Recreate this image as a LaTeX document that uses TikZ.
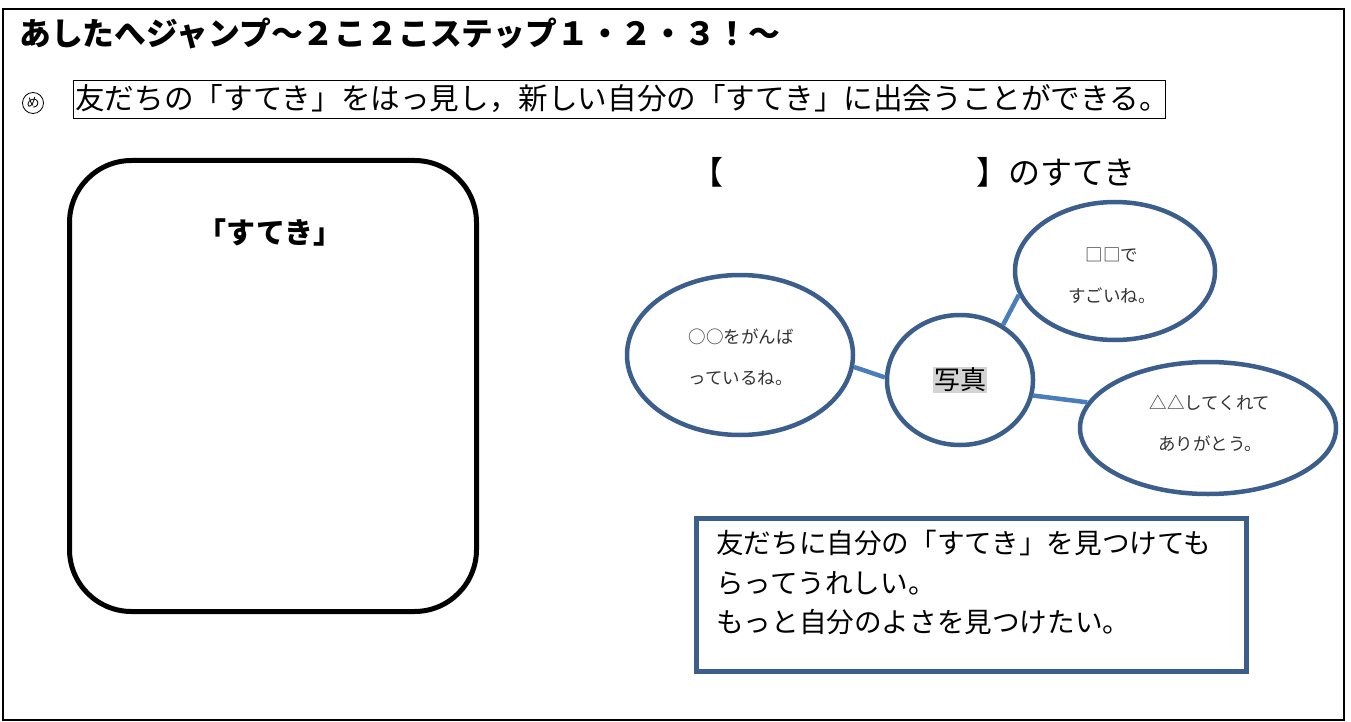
\documentclass[tikz,border=0pt]{standalone}
\usepackage{fontspec}
\setmainfont{Noto Sans CJK JP}
\usetikzlibrary{shapes.geometric}
\definecolor{bubble}{HTML}{3B5E8C}
\definecolor{link}{HTML}{4A7EBB}
\tikzset{
  bub/.style={ellipse, draw=bubble, line width=4.5pt, fill=white, inner sep=0pt},
  linkline/.style={draw=link, line width=4.5pt},
  small/.style={font=\fontsize{17.5pt}{41pt}\selectfont, align=center, text=black!80},
}
\begin{document}
\begin{tikzpicture}[x=1pt,y=-1pt]
\useasboundingbox (0,0) rectangle (1351,722);
% outer frame
\node[draw, line width=1.6pt, minimum width=1341pt, minimum height=711pt, anchor=north west, inner sep=0pt] (frame) at (2,8) {};
% title
\node[anchor=west, font=\fontsize{31.8pt}{32pt}\selectfont\bfseries, inner sep=0pt] (title) at (19,33) {あしたへジャンプ〜２こ２こステップ１・２・３！〜};
% me mark
\node[circle, draw, line width=0.8pt, minimum size=21pt, inner sep=0pt, font=\fontsize{13pt}{13pt}\selectfont] (me) at (33,103) {め};
\node[draw, line width=1.4pt, anchor=north west, minimum width=1092pt, minimum height=38pt, inner sep=0pt] (goalbox) at (73,80) {};
\node[anchor=west, font=\fontsize{29.6pt}{30pt}\selectfont, inner sep=0pt] (goal) at (75,99) {友だちの「すてき」をはっ見し，新しい自分の「すてき」に出会うことができる。};
% left rounded box
\node[draw, line width=5pt, rounded corners=62pt, minimum width=407pt, minimum height=451pt, anchor=north west, inner sep=0pt] (sbox) at (67,158) {};
\node[font=\fontsize{29pt}{29pt}\selectfont\bfseries, inner sep=0pt] (stitle) at (270,232) {「すてき」};
% right heading
\node[anchor=east, font=\fontsize{32pt}{32pt}\selectfont, inner sep=0pt] (lbr) at (724,172) {【};
\node[anchor=west, font=\fontsize{32pt}{32pt}\selectfont, inner sep=0pt] (rbr) at (976,172) {】のすてき};
% bubbles
\node[bub, minimum width=226pt, minimum height=160pt] (b1) at (740,355) {};
\node[bub, minimum width=146pt, minimum height=130pt] (bc) at (960,380) {};
\node[bub, minimum width=200pt, minimum height=138pt] (b2) at (1115,271) {};
\node[bub, minimum width=256pt, minimum height=132pt] (b3) at (1208,428) {};
% connectors
\path[linkline] (b1.-6) -- (bc.178);
\path[linkline] (bc.52) -- (b2.194);
\path[linkline] (bc.-12) -- (b3.168);
% bubble texts
\node[small, align=left] (t1) at (741,357) {○○をがんば\\っているね。};
\node[fill=black!17, inner sep=1pt, font=\fontsize{26pt}{26pt}\selectfont] (photo) at (960,380) {写真};
\node[small] (t2) at (1112,276) {□□で\\すごいね。};
\node[small] (t3) at (1210,423) {△△してくれて\\ありがとう。};
% bottom box
\node[draw=bubble, line width=4.5pt, anchor=north west, minimum width=550pt, minimum height=153pt, inner sep=0pt] (note) at (694,516) {};
\node[anchor=north west, align=left, font=\fontsize{27.6pt}{39.5pt}\selectfont, inner sep=0pt] (notetext) at (716,530) {友だちに自分の「すてき」を見つけても\\らってうれしい。\\もっと自分のよさを見つけたい。};
\end{tikzpicture}
\end{document}
